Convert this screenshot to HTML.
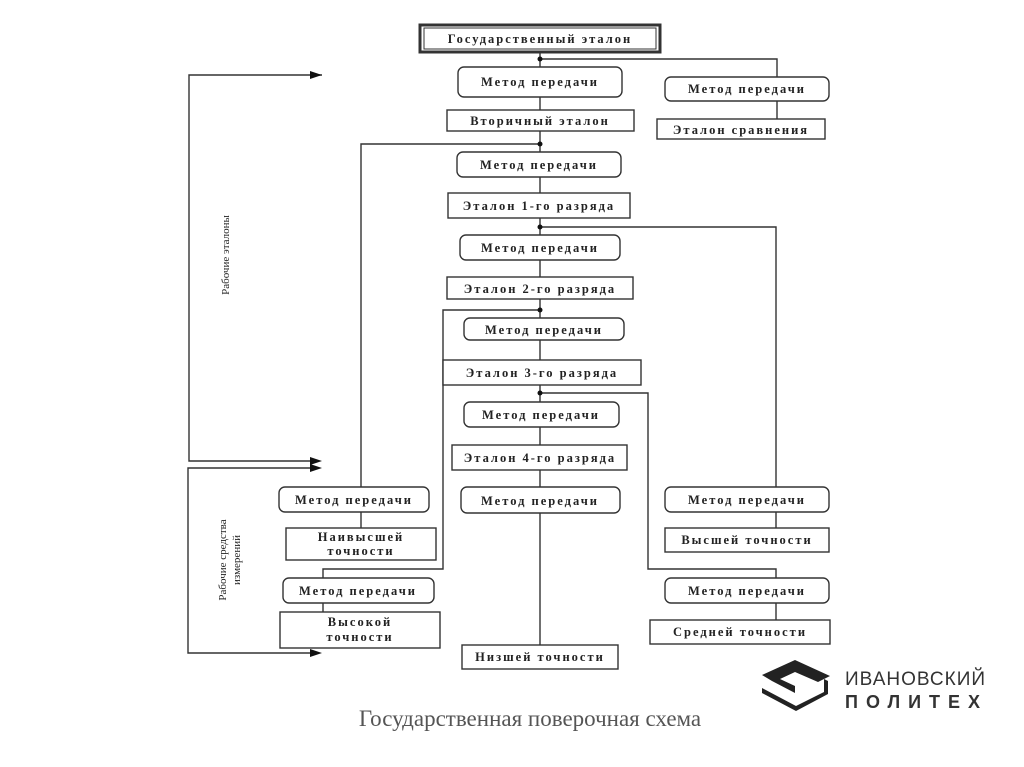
<!DOCTYPE html>
<html><head><meta charset="utf-8"><style>
html,body{margin:0;padding:0;background:#fff;width:1024px;height:767px;overflow:hidden}
svg text{font-family:"Liberation Serif","DejaVu Serif",serif;fill:#222}
</style></head><body>
<svg width="1024" height="767" viewBox="0 0 1024 767" xmlns="http://www.w3.org/2000/svg">
<g stroke="#333" stroke-width="1.4" fill="none">
<line x1="540" y1="52" x2="540" y2="645"/>
<polyline points="540,59 777,59 777,77"/>
<line x1="777" y1="101" x2="777" y2="119"/>
<polyline points="540,144 361,144 361,487"/>
<polyline points="540,227 776,227 776,487"/>
<polyline points="540,310 443,310 443,569 323,569 323,578"/>
<polyline points="540,393 648,393 648,569 776,569 776,578"/>
<line x1="361" y1="512" x2="361" y2="528"/>
<line x1="323" y1="603" x2="323" y2="612"/>
<line x1="776" y1="512" x2="776" y2="528"/>
<line x1="776" y1="603" x2="776" y2="620"/>
<polyline points="322,75 189,75 189,461 312,461"/>
<polyline points="312,468 188,468 188,653 312,653"/>
</g>
<g fill="#111">
<circle cx="540" cy="59" r="2.5"/><circle cx="540" cy="144" r="2.5"/>
<circle cx="540" cy="227" r="2.5"/><circle cx="540" cy="310" r="2.5"/>
<circle cx="540" cy="393" r="2.5"/>
<polygon points="322,75 310,71 310,79"/>
<polygon points="322,461 310,457 310,465"/>
<polygon points="322,468 310,464 310,472"/>
<polygon points="322,653 310,649 310,657"/>
</g>
<g stroke="#333" stroke-width="1.4" fill="#fff">
<rect x="420" y="25" width="240" height="27" stroke-width="3"/>
<rect x="424" y="28" width="232" height="21" stroke-width="1"/>
<rect x="458" y="67" width="164" height="30" rx="6"/>
<rect x="665" y="77" width="164" height="24" rx="6"/>
<rect x="447" y="110" width="187" height="21"/>
<rect x="657" y="119" width="168" height="20"/>
<rect x="457" y="152" width="164" height="25" rx="6"/>
<rect x="448" y="193" width="182" height="25"/>
<rect x="460" y="235" width="160" height="25" rx="6"/>
<rect x="447" y="277" width="186" height="22"/>
<rect x="464" y="318" width="160" height="22" rx="6"/>
<rect x="443" y="360" width="198" height="25"/>
<rect x="464" y="402" width="155" height="25" rx="6"/>
<rect x="452" y="445" width="175" height="25"/>
<rect x="461" y="487" width="159" height="26" rx="6"/>
<rect x="462" y="645" width="156" height="24"/>
<rect x="279" y="487" width="150" height="25" rx="6"/>
<rect x="286" y="528" width="150" height="32"/>
<rect x="283" y="578" width="151" height="25" rx="6"/>
<rect x="280" y="612" width="160" height="36"/>
<rect x="665" y="487" width="164" height="25" rx="6"/>
<rect x="665" y="528" width="164" height="24"/>
<rect x="665" y="578" width="164" height="25" rx="6"/>
<rect x="650" y="620" width="180" height="24"/>
</g>
<g font-size="12.5" font-weight="bold" text-anchor="middle" letter-spacing="2">
<text x="540" y="43">Государственный эталон</text>
<text x="540" y="86">Метод передачи</text>
<text x="747" y="93">Метод передачи</text>
<text x="540" y="125">Вторичный эталон</text>
<text x="741" y="134">Эталон сравнения</text>
<text x="539" y="169">Метод передачи</text>
<text x="539" y="210">Эталон 1-го разряда</text>
<text x="540" y="252">Метод передачи</text>
<text x="540" y="293">Эталон 2-го разряда</text>
<text x="544" y="334">Метод передачи</text>
<text x="542" y="377">Эталон 3-го разряда</text>
<text x="541" y="419">Метод передачи</text>
<text x="540" y="462">Эталон 4-го разряда</text>
<text x="540" y="505">Метод передачи</text>
<text x="540" y="661">Низшей точности</text>
<text x="354" y="504">Метод передачи</text>
<text x="361" y="541">Наивысшей</text>
<text x="361" y="555">точности</text>
<text x="358" y="595">Метод передачи</text>
<text x="360" y="626">Высокой</text>
<text x="360" y="641">точности</text>
<text x="747" y="504">Метод передачи</text>
<text x="747" y="544">Высшей точности</text>
<text x="747" y="595">Метод передачи</text>
<text x="740" y="636">Средней точности</text>
</g>
<g font-size="11" text-anchor="middle">
<text transform="translate(229,255) rotate(-90)">Рабочие эталоны</text>
<text transform="translate(226,560) rotate(-90)">Рабочие средства</text>
<text transform="translate(240,560) rotate(-90)">измерений</text>
</g>
<text x="530" y="726" font-size="23" text-anchor="middle" style="fill:#555">Государственная поверочная схема</text>
<g fill="#222">
<polygon points="762,675 795,660 830,676 818,682 795,672 780,679 795,686 795,693 772,681"/>
<polygon points="762,688 796,706 824,692 824,679 828,681 828,694 796,711 762,693" />
</g>
<text x="845" y="685" font-size="19" style="font-family:'Liberation Sans',sans-serif;fill:#333" letter-spacing="1">ИВАНОВСКИЙ</text>
<text x="845" y="708" font-size="18" font-weight="bold" style="font-family:'Liberation Sans',sans-serif;fill:#333" letter-spacing="8">ПОЛИТЕХ</text>
</svg>
</body></html>
